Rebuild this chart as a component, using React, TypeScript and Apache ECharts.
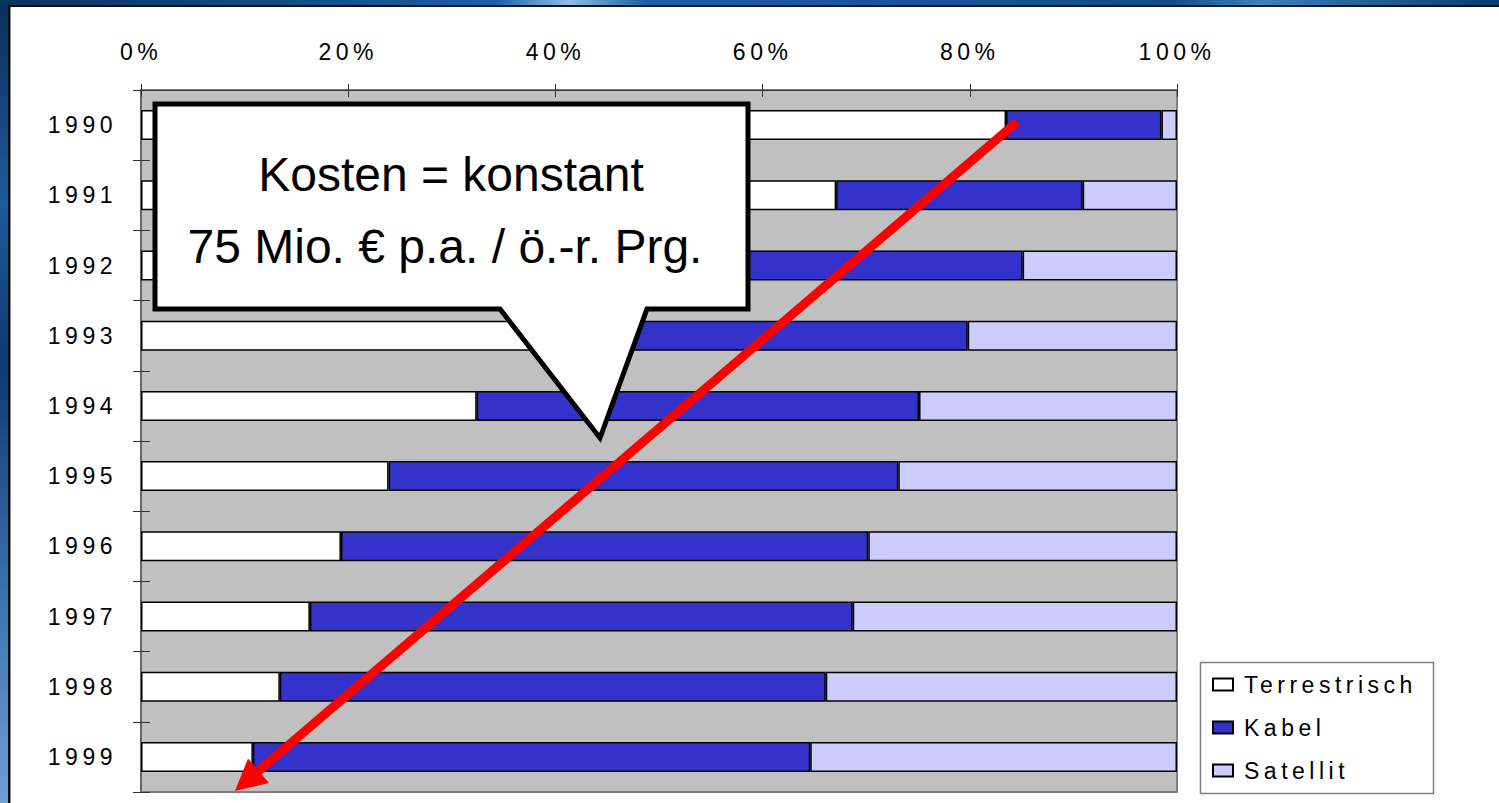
import React, { useEffect, useRef } from "react";
import * as echarts from "echarts";

const years = ["1990", "1991", "1992", "1993", "1994", "1995", "1996", "1997", "1998", "1999"];
const terrestrisch = [83.5, 67.1, 55.0, 43.0, 32.4, 23.9, 19.3, 16.3, 13.4, 10.8];
const kabel = [15.0, 23.8, 30.1, 36.8, 42.7, 49.2, 50.9, 52.4, 52.7, 53.8];
const satellit = [1.5, 9.1, 14.9, 20.2, 24.9, 26.9, 29.8, 31.3, 33.9, 35.4];
const seriesNames = ["Terrestrisch", "Kabel", "Satellit"];
const seriesColors = ["#FFFFFF", "#3333CC", "#CCCCFF"];
const xTicks = { min: 0, max: 100, interval: 20 };
const calloutLines = ["Kosten = konstant", "75 Mio. € p.a. / ö.-r. Prg."];

const AXIS_FONT = 'Arial, "Liberation Sans", sans-serif';
const CALLOUT_FONT = '"Liberation Sans", sans-serif';

export default function App() {
  const ref = useRef<HTMLDivElement>(null);

  useEffect(() => {
    if (!ref.current) return;
    const chart = echarts.init(ref.current, undefined, { renderer: "svg" });
    const values = [terrestrisch, kabel, satellit];

    const leftGrad = new echarts.graphic.LinearGradient(0, 0, 0, 1, [
      { offset: 0, color: "#0b2d5a" },
      { offset: 0.25, color: "#1f5a9a" },
      { offset: 0.45, color: "#0c3a72" },
      { offset: 0.75, color: "#3d73ae" },
      { offset: 1, color: "#6f9fd3" },
    ]);
    const topGrad = new echarts.graphic.LinearGradient(0, 0, 1, 0, [
      { offset: 0, color: "#0a3360" },
      { offset: 0.33, color: "#1b5ea8" },
      { offset: 0.38, color: "#8fbde8" },
      { offset: 0.43, color: "#1b5ea8" },
      { offset: 0.78, color: "#0c4f90" },
      { offset: 0.84, color: "#3d7fc0" },
      { offset: 1, color: "#0a3a70" },
    ]);

    chart.setOption({
      animation: false,
      backgroundColor: "#ffffff",
      grid: {
        left: 141,
        right: 322,
        top: 90,
        bottom: 11,
        show: true,
        backgroundColor: "#C0C0C0",
        borderColor: "#808080",
        borderWidth: 2,
      },
      legend: {
        orient: "vertical",
        left: 1212,
        top: 673,
        padding: 0,
        itemWidth: 20,
        itemHeight: 12,
        itemGap: 20,
        icon: "rect",
        data: seriesNames,
        textStyle: { fontSize: 23, fontFamily: AXIS_FONT, color: "#000", padding: [0, 0, 0, 6] },
      },
      xAxis: [
        {
          type: "value",
          position: "top",
          ...xTicks,
          axisLine: { show: true, lineStyle: { color: "#333", width: 1 } },
          axisTick: { show: true, length: 6, lineStyle: { color: "#333" } },
          axisLabel: {
            formatter: "{value}%",
            fontSize: 23,
            fontFamily: AXIS_FONT,
            color: "#000",
            margin: 27,
          },
          splitLine: { show: false },
        },
        {
          type: "value",
          position: "top",
          ...xTicks,
          axisLine: { show: false },
          axisTick: { show: true, inside: true, length: 7, lineStyle: { color: "#333" } },
          axisLabel: { show: false },
          splitLine: { show: false },
        },
      ],
      yAxis: [
        {
          type: "category",
          data: years,
          inverse: true,
          axisLine: { show: true, lineStyle: { color: "#666", width: 2 } },
          axisTick: { show: true, length: 8, lineStyle: { color: "#333" } },
          axisLabel: { fontSize: 23, fontFamily: AXIS_FONT, color: "#000", margin: 24 },
        },
        {
          type: "category",
          data: years,
          inverse: true,
          position: "left",
          axisLine: { show: false },
          axisTick: { show: true, inside: true, length: 9, lineStyle: { color: "#333" } },
          axisLabel: { show: false },
        },
      ],
      series: seriesNames.map((name, i) => ({
        name,
        type: "bar",
        stack: "total",
        xAxisIndex: 0,
        yAxisIndex: 0,
        barWidth: 30,
        data: values[i],
        itemStyle: { color: seriesColors[i], borderColor: "#000", borderWidth: 1.5 },
      })),
      graphic: [
        { type: "rect", z: 200, shape: { x: 0, y: 0, width: 8, height: 803 }, style: { fill: leftGrad } },
        { type: "rect", z: 200, shape: { x: 8, y: 0, width: 2.5, height: 803 }, style: { fill: "#111" } },
        { type: "rect", z: 200, shape: { x: 0, y: 0, width: 1499, height: 5 }, style: { fill: topGrad } },
        { type: "rect", z: 200, shape: { x: 8, y: 5, width: 1491, height: 2 }, style: { fill: "#111" } },
        {
          type: "rect",
          z: 1,
          shape: { x: 1200.5, y: 662.5, width: 233, height: 131 },
          style: { fill: "transparent", stroke: "#808080", lineWidth: 1.5 },
        },
        {
          type: "polygon",
          z: 100,
          shape: {
            points: [
              [155, 104],
              [748, 104],
              [748, 309],
              [647, 309],
              [600, 438],
              [500, 309],
              [155, 309],
            ],
          },
          style: { fill: "#fff", stroke: "#000", lineWidth: 5, lineJoin: "miter" },
        },
        {
          type: "text",
          z: 101,
          x: 451,
          y: 174,
          style: {
            text: calloutLines[0],
            fontSize: 48,
            fontFamily: CALLOUT_FONT,
            fill: "#000",
            textAlign: "center",
            textVerticalAlign: "middle",
          },
        },
        {
          type: "text",
          z: 101,
          x: 445,
          y: 246,
          style: {
            text: calloutLines[1],
            fontSize: 48,
            fontFamily: CALLOUT_FONT,
            fill: "#000",
            textAlign: "center",
            textVerticalAlign: "middle",
          },
        },
        {
          type: "line",
          z: 102,
          shape: { x1: 1017, y1: 122, x2: 256, y2: 773 },
          style: { stroke: "#FF0000", lineWidth: 9, lineCap: "butt" },
        },
        {
          type: "polygon",
          z: 102,
          shape: {
            points: [
              [235, 791],
              [248, 758.5],
              [269, 783],
            ],
          },
          style: { fill: "#FF0000" },
        },
      ],
    });

    return () => chart.dispose();
  }, []);

  return (
    <>
      <style>{`#chartbox text[style*="Arial"]{letter-spacing:4.5px;}`}</style>
      <div
        id="chartbox"
        ref={ref}
        style={{ position: "absolute", left: 0, top: 0, width: 1499, height: 803, background: "#fff" }}
      />
    </>
  );
}
